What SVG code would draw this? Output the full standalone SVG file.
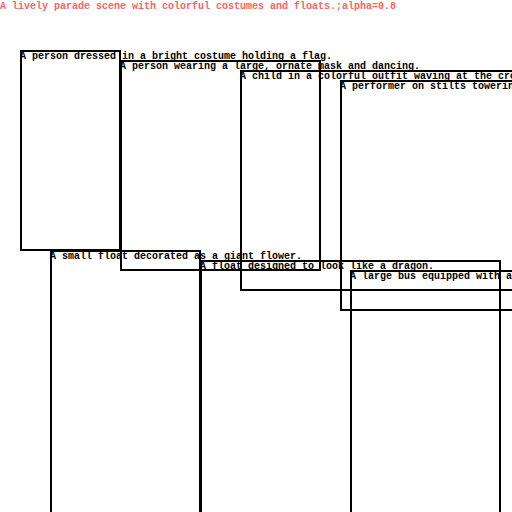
<svg xmlns="http://www.w3.org/2000/svg" width="512" height="512" viewBox="0 0 512 512">
<style>
.box{fill:none;stroke:#000;stroke-width:2}
.lbl{font-family:"Liberation Mono","DejaVu Sans Mono",monospace;font-size:10px;font-weight:bold;fill:#000}
.title{font-family:"Liberation Mono","DejaVu Sans Mono",monospace;font-size:10px;font-weight:bold;fill:#f86464}
</style>
<rect width="512" height="512" fill="#fff"/>
<text class="title" x="0" y="9">A lively parade scene with colorful costumes and floats.;alpha=0.8</text>
<g id="node-flag">
<rect class="box" x="21" y="51" width="99" height="199"/>
<text class="lbl" x="20" y="59">A person dressed in a bright costume holding a flag.</text>
</g>
<g id="node-mask">
<rect class="box" x="121" y="61" width="199" height="209"/>
<text class="lbl" x="120" y="69">A person wearing a large, ornate mask and dancing.</text>
</g>
<g id="node-child">
<rect class="box" x="241" y="71" width="300" height="219"/>
<text class="lbl" x="240" y="79">A child in a colorful outfit waving at the crowd.</text>
</g>
<g id="node-stilts">
<rect class="box" x="341" y="81" width="200" height="229"/>
<text class="lbl" x="340" y="89">A performer on stilts towering</text>
</g>
<g id="node-flower">
<rect class="box" x="51" y="251" width="149" height="280"/>
<text class="lbl" x="50" y="259">A small float decorated as a giant flower.</text>
</g>
<g id="node-dragon">
<rect class="box" x="201" y="261" width="299" height="280"/>
<text class="lbl" x="200" y="269">A float designed to look like a dragon.</text>
</g>
<g id="node-bus">
<rect class="box" x="351" y="271" width="200" height="280"/>
<text class="lbl" x="350" y="279">A large bus equipped with a</text>
</g>
<g id="connectors"/>
</svg>
